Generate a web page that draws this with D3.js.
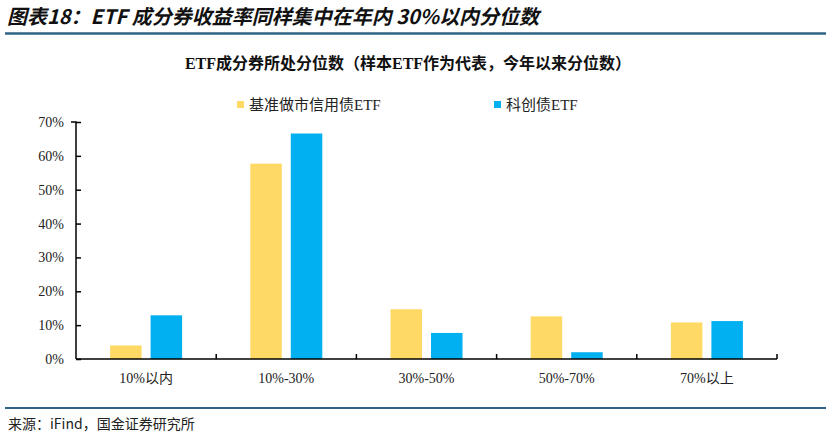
<!DOCTYPE html>
<html>
<head>
<meta charset="utf-8">
<script src="https://cdn.jsdelivr.net/npm/d3@7"></script>
<style>
  body { margin: 0; background: #fff; }
  svg text { font-family: "Liberation Serif", "Noto Sans CJK SC", serif; }
</style>
</head>
<body>
<div id="chart"></div>
<script>
// data
var categories = ["10%以内", "10%-30%", "30%-50%", "50%-70%", "70%以上"];
var seriesNames = ["基准做市信用债ETF", "科创债ETF"];
var marketMakerValues = [0.040, 0.577, 0.147, 0.126, 0.108];
var sciTechValues = [0.129, 0.666, 0.077, 0.020, 0.112];
var yTicks = [0, 0.1, 0.2, 0.3, 0.4, 0.5, 0.6, 0.7];
var colors = ["#FFD966", "#00B0F0"];

var width = 831, height = 436;
var margin = { left: 76, right: 54, top: 122, bottom: 77 };

var svg = d3.select("#chart")
  .append("svg")
  .attr("width", width)
  .attr("height", height);

// report header
svg.append("text")
  .attr("x", 7)
  .attr("y", 24)
  .style("font-family", "'Noto Sans CJK SC', sans-serif")
  .style("font-size", "20px")
  .style("font-weight", "bold")
  .style("font-style", "italic")
  .style("fill", "#111")
  .text("图表18：ETF 成分券收益率同样集中在年内 30%以内分位数");

svg.append("line")
  .attr("x1", 5).attr("x2", 826)
  .attr("y1", 33.5).attr("y2", 33.5)
  .style("stroke", "#2E6387")
  .style("stroke-width", 2.5);

svg.append("line")
  .attr("x1", 5).attr("x2", 826)
  .attr("y1", 408).attr("y2", 408)
  .style("stroke", "#2E6387")
  .style("stroke-width", 2);

svg.append("text")
  .attr("x", 8)
  .attr("y", 429)
  .style("font-family", "'Noto Sans CJK SC', sans-serif")
  .style("font-size", "14px")
  .style("fill", "#222")
  .text("来源：iFind，国金证券研究所");

// chart title
svg.append("text")
  .attr("x", 408)
  .attr("y", 69)
  .attr("text-anchor", "middle")
  .style("font-size", "16px")
  .style("font-weight", "bold")
  .style("fill", "#111")
  .text("ETF成分券所处分位数（样本ETF作为代表，今年以来分位数）");

// legend
var legendX = [237, 494];
var legend = svg.selectAll(".legend")
  .data(seriesNames)
  .enter().append("g")
    .attr("class", "legend")
    .attr("transform", function(d, i) { return "translate(" + legendX[i] + ",0)"; });

legend.append("rect")
  .attr("x", 0).attr("y", 101)
  .attr("width", 7).attr("height", 7)
  .style("fill", function(d, i) { return colors[i]; });

legend.append("text")
  .attr("x", 12)
  .attr("y", 110)
  .style("font-size", "15px")
  .style("fill", "#222")
  .text(function(d) { return d; });

// scales
var x = d3.scaleBand()
  .domain(categories)
  .range([margin.left, width - margin.right]);

var y = d3.scaleLinear()
  .domain([0, 0.7])
  .range([height - margin.bottom, margin.top]);

var barWidth = 31.5, barGap = 9;

var seriesValues = [marketMakerValues, sciTechValues];
seriesValues.forEach(function(values, s) {
  svg.selectAll(".bar-" + s)
    .data(values)
    .enter().append("rect")
      .attr("class", "bar-" + s)
      .attr("x", function(d, i) {
        var center = x(categories[i]) + x.bandwidth() / 2;
        return s === 0 ? center - barGap / 2 - barWidth : center + barGap / 2;
      })
      .attr("y", function(d) { return y(d); })
      .attr("width", barWidth)
      .attr("height", function(d) { return y(0) - y(d); })
      .style("fill", colors[s]);
});

// y axis
var yAxis = svg.append("g")
  .attr("transform", "translate(" + margin.left + ",0)")
  .call(d3.axisLeft(y).tickValues(yTicks).tickFormat(d3.format(".0%")).tickSize(5).tickPadding(7));

yAxis.selectAll("text")
  .style("font-size", "14px")
  .style("fill", "#222");
yAxis.selectAll("line, path").style("stroke", "#000").style("stroke-width", 1.5);
yAxis.select(".domain").attr("d", "M-5," + y(0.7) + "H0V" + y(0));
yAxis.selectAll(".tick line").attr("x1", 0).attr("x2", 5);

// x axis
var xAxis = svg.append("g")
  .attr("transform", "translate(0," + y(0) + ")")
  .call(d3.axisBottom(x).tickSize(0).tickPadding(14));

xAxis.select(".domain").style("stroke", "#000").style("stroke-width", 1.5)
  .attr("d", "M" + margin.left + ",0H" + (width - margin.right));
xAxis.selectAll("text")
  .style("font-size", "14px")
  .style("fill", "#222");

// category separators
svg.selectAll(".sep")
  .data(categories)
  .enter().append("line")
    .attr("class", "sep")
    .attr("x1", function(d) { return x(d) + x.bandwidth(); })
    .attr("x2", function(d) { return x(d) + x.bandwidth(); })
    .attr("y1", y(0) - 5)
    .attr("y2", y(0))
    .style("stroke", "#000")
    .style("stroke-width", 1.5);
</script>
</body>
</html>
